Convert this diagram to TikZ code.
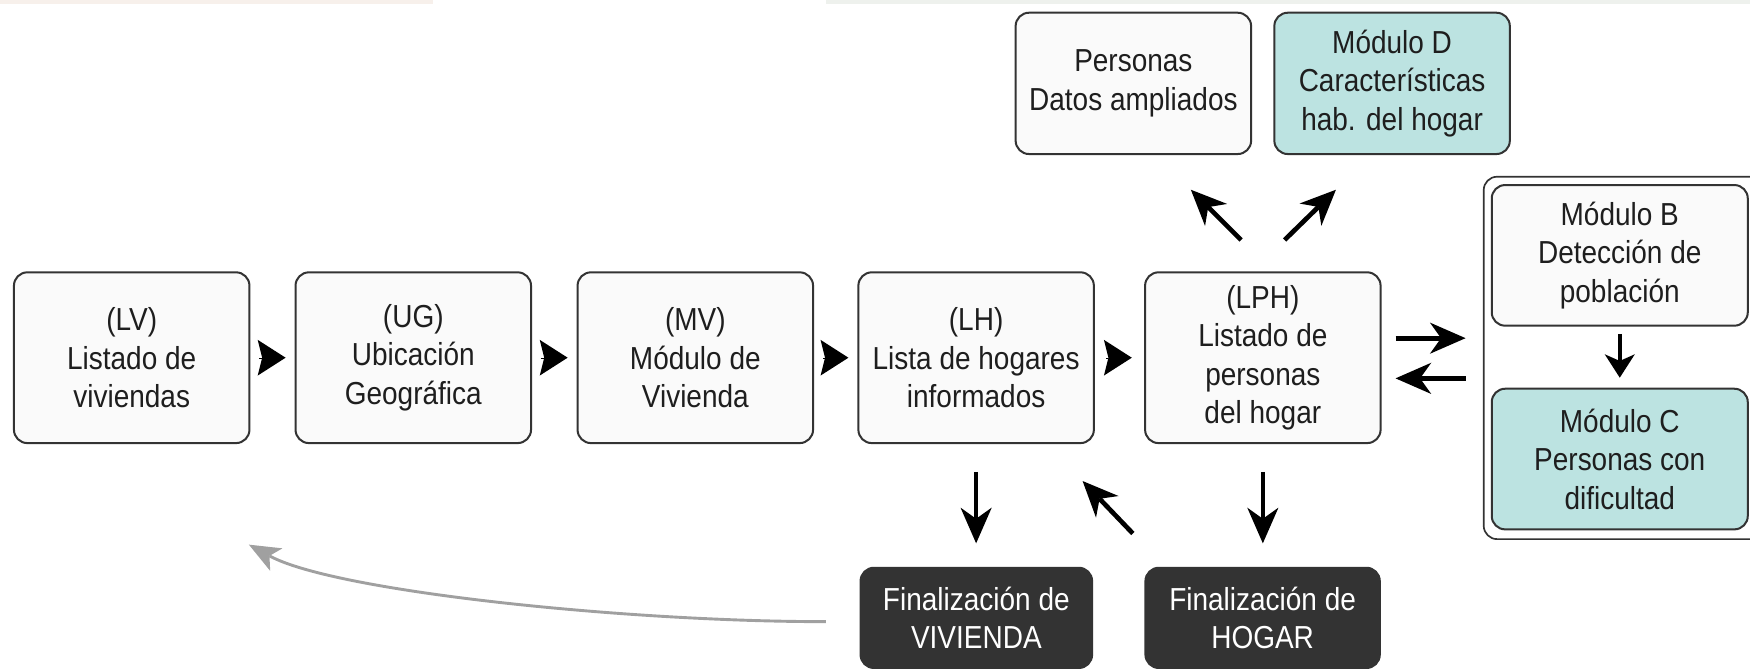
\documentclass[tikz,border=0pt]{standalone}
\usepackage{fontspec}
\setmainfont{Liberation Sans}[FakeStretch=0.88]
\usetikzlibrary{arrows.meta,calc}
\definecolor{boxline}{HTML}{333333}
\definecolor{boxfill}{HTML}{FAFAFA}
\definecolor{modteal}{HTML}{BCE3E1}
\definecolor{darkbox}{HTML}{333333}
\definecolor{txt}{HTML}{1E1E1E}
\definecolor{curvegray}{HTML}{A0A0A0}
\definecolor{stripa}{HTML}{F7F0EB}
\definecolor{stripb}{HTML}{EEF1ED}
\begin{document}
\begin{tikzpicture}[x=1pt,y=-1pt,
  base/.style={rounded corners=12pt, line width=1.8pt, align=center, inner sep=0pt,
    font=\fontsize{28.5}{34.5}\selectfont},
  stage/.style={base, draw=boxline, fill=boxfill, text=txt, minimum width=211pt, minimum height=153pt},
  topbox/.style={base, draw=boxline, fill=boxfill, text=txt, minimum width=211pt, minimum height=126.6pt},
  modbox/.style={base, draw=boxline, fill=boxfill, text=txt, minimum width=229.4pt, minimum height=126pt},
  tealfill/.style={fill=modteal},
  finbox/.style={base, draw=darkbox, fill=darkbox, text=white, minimum height=89.8pt},
  frame/.style={draw=boxline, line width=1.5pt, rounded corners=12pt, fill=white, inner sep=0pt,
    minimum width=262pt, minimum height=324.7pt},
  tri/.style={line width=0.1pt, -{Stealth[length=25pt,width=32pt,inset=4pt,line width=0pt]},
    shorten <=8pt, shorten >=8pt},
  arr/.style={line width=4.2pt, -{Stealth[length=32pt,width=28pt,inset=10pt,line width=0pt]}},
  smallarr/.style={line width=3.4pt, -{Stealth[length=21pt,width=27pt,inset=6pt,line width=0pt]}},
  backarr/.style={line width=2.6pt, draw=curvegray, -{Stealth[length=28pt,width=23pt,inset=7pt,line width=0pt]}}
]
\useasboundingbox (0,0) rectangle (1568,600);
\clip (0,0) rectangle (1568,600);
\fill[stripa] (0,0) rectangle (388,3.5);
\fill[stripb] (740,0) rectangle (1568,3.5);

% main row
\node[stage] (lv)  at (118,320.5)   {(LV)\\Listado de\\viviendas};
\node[stage] (ug)  at (370.3,320.5) {(UG)\\Ubicación\\Geográfica};
\node[stage] (mv)  at (623,320.5)   {(MV)\\Módulo de\\Vivienda};
\node[stage] (lh)  at (874.6,320.5) {(LH)\\Lista de hogares\\informados};
\node[stage] (lph) at (1131.5,320.5) {(LPH)\\Listado de\\personas\\del hogar};

% top boxes
\node[topbox] (pers) at (1015.5,74.7) {Personas\\Datos ampliados};
\node[topbox, tealfill] (modd) at (1247.3,74.7) {Módulo D\\Características\\hab. del hogar};

% right frame with modules B and C
\node[frame] (cont) at (1460.4,320.7) {};
\node[modbox] (modb) at (1451.3,228.8) {Módulo B\\Detección de\\población};
\node[modbox, tealfill] (modc) at (1451.3,411.3) {Módulo C\\Personas con\\dificultad};

% final boxes
\node[finbox, minimum width=207.5pt] (finv) at (874.8,553.6) {Finalización de\\VIVIENDA};
\node[finbox, minimum width=210pt] (finh) at (1131.3,553.6) {Finalización de\\HOGAR};

% triangles between stages
\draw[tri] (lv) -- (ug);
\draw[tri] (ug) -- (mv);
\draw[tri] (mv) -- (lh);
\draw[tri, shorten <=10pt, shorten >=11pt] (lh) -- (lph);

% LPH <-> frame
\draw[arr, shorten <=12.5pt, shorten >=15.5pt] ([yshift=17.5pt]lph.east) -- ([yshift=17.5pt]lph.east -| cont.west);
\draw[arr, shorten <=15.5pt, shorten >=12.5pt] ([yshift=-18.5pt]lph.east -| cont.west) -- ([yshift=-18.5pt]lph.east);

% B -> C
\draw[smallarr, shorten <=6.5pt, shorten >=9pt] (modb.south) -- (modc.north);

% LPH up arrows
\coordinate (nwtail) at (1112,215);
\coordinate (nwtip)  at (1067,170);
\coordinate (netail) at (1151,215);
\coordinate (netip)  at (1197,170);
\draw[arr] (nwtail) -- (nwtip);
\draw[arr] (netail) -- (netip);

% down arrows
\draw[arr, shorten <=25pt, shorten >=21pt] (lh.south) -- (lh.south |- finv.north);
\draw[arr, shorten <=25pt, shorten >=21pt] (lph.south) -- (lph.south |- finh.north);

% back to LH
\coordinate (bktail) at (1015,478);
\coordinate (bktip)  at (970,431);
\draw[arr] (bktail) -- (bktip);

% grey return curve
\coordinate (gstart) at (740,557);
\coordinate (gend) at (223,488);
\draw[backarr] (gstart) .. controls (560,557) and (300,530) .. (gend);
\end{tikzpicture}
\end{document}
